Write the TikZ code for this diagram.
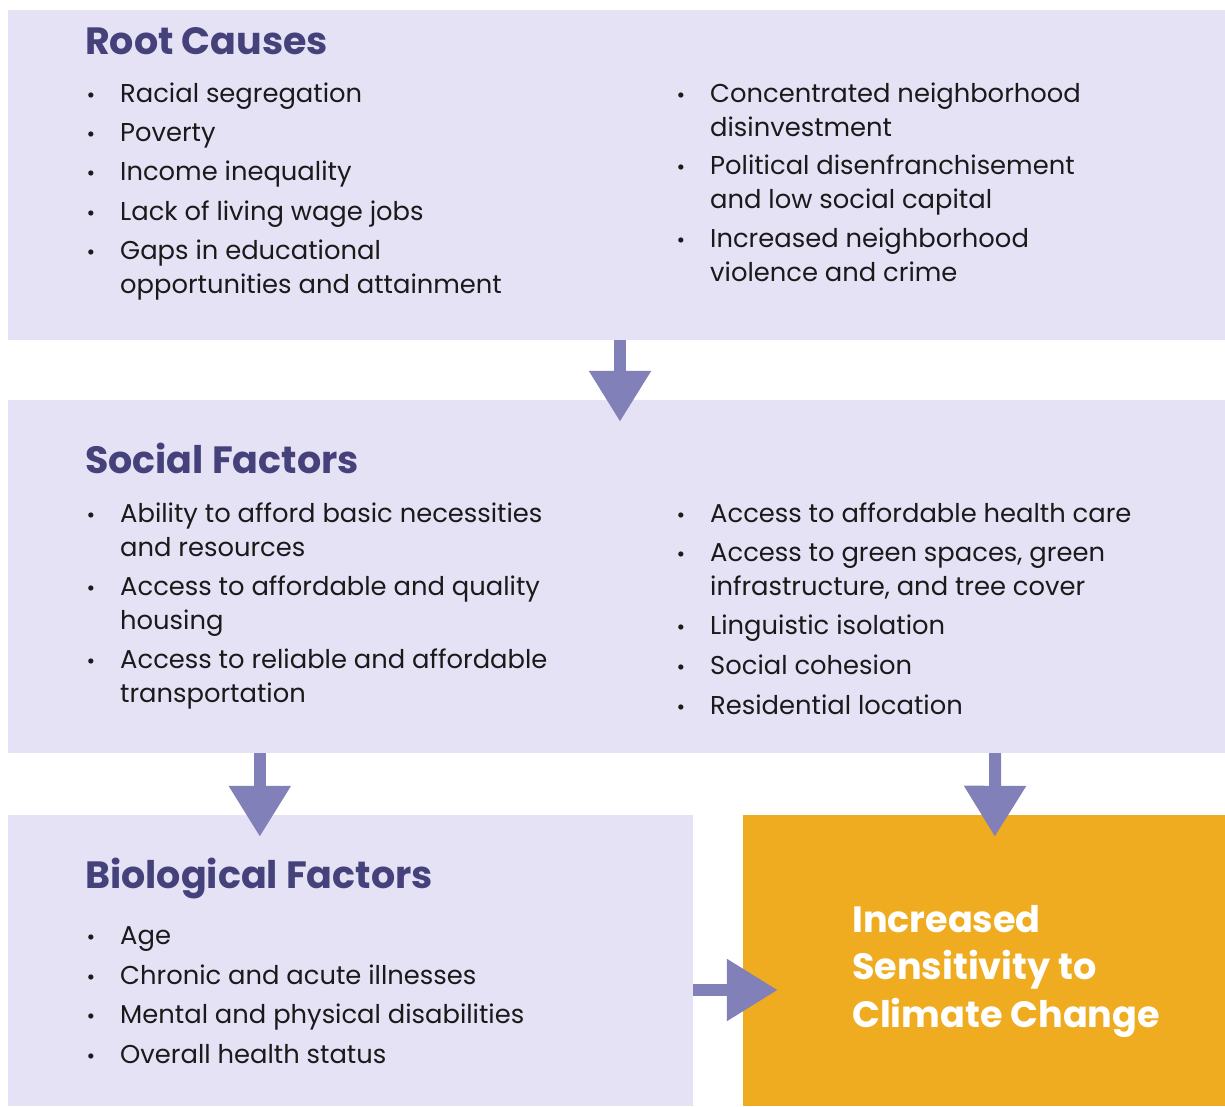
\documentclass[tikz,border=0pt]{standalone}
\usepackage{fontspec}
\setmainfont{Poppins}
\usepackage{tikz}
\usetikzlibrary{arrows.meta,positioning,calc}
\definecolor{PanelLilac}{HTML}{E5E2F6}
\definecolor{FlowPurple}{HTML}{8280B8}
\definecolor{HeadPurple}{HTML}{45417A}
\definecolor{HotAmber}{HTML}{F0AC20}
\definecolor{InkDark}{HTML}{1A1A1A}
\newcommand{\bul}{\llap{{\fontsize{21}{21}\selectfont\textbullet}\hskip 25pt}}

\begin{document}
\begin{tikzpicture}[
	x=1pt, y=1pt,
	panel/.style={fill=PanelLilac, inner sep=0pt},
	hotpanel/.style={fill=HotAmber, inner sep=0pt},
	heading/.style={anchor=base west, inner sep=0pt, text=HeadPurple, font=\fontsize{38}{46}\selectfont\bfseries},
	entry/.style={anchor=base west, inner sep=0pt, align=left, text=InkDark, font=\fontsize{25.8}{34}\selectfont},
	hottext/.style={anchor=base west, inner sep=0pt, align=left, text=white, font=\fontsize{36.6}{47.5}\selectfont\bfseries},
	flow/.style={-{Triangle[width=59pt,length=51pt]}, line width=12pt, draw=FlowPurple}
]
\useasboundingbox (0,0) rectangle (1225,1106);

% panels
\node[panel, minimum width=1217pt, minimum height=330pt] (root) at (616.5,931) {};
\node[panel, minimum width=1217pt, minimum height=353pt] (social) at (616.5,529.5) {};
\node[panel, minimum width=685pt, minimum height=291pt] (bio) at (350.5,145.5) {};
\node[hotpanel, minimum width=482pt, minimum height=291pt] (hot) at (984,145.5) {};

% root causes (multi-line entries sit on their last baseline)
\node[heading] (rootT) at (85,1051) {Root Causes};
\node[entry] (r1) at (120,1003) {\bul Racial segregation};
\node[entry] (r2) at (120,964) {\bul Poverty};
\node[entry] (r3) at (120,925) {\bul Income inequality};
\node[entry] (r4) at (120,885) {\bul Lack of living wage jobs};
\node[entry] (r5) at (120,812) {\bul Gaps in educational\\opportunities and attainment};
\node[entry] (r6) at (710,969) {\bul Concentrated neighborhood\\disinvestment};
\node[entry] (r7) at (710,897) {\bul Political disenfranchisement\\and low social capital};
\node[entry] (r8) at (710,824) {\bul Increased neighborhood\\violence and crime};

% social factors
\node[heading] (socialT) at (85,632) {Social Factors};
\node[entry] (s1) at (120,549) {\bul Ability to afford basic necessities\\and resources};
\node[entry] (s2) at (120,476) {\bul Access to affordable and quality\\housing};
\node[entry] (s3) at (120,403) {\bul Access to reliable and affordable\\transportation};
\node[entry] (s4) at (710,583) {\bul Access to affordable health care};
\node[entry] (s5) at (710,510) {\bul Access to green spaces, green\\infrastructure, and tree cover};
\node[entry] (s6) at (710,471) {\bul Linguistic isolation};
\node[entry] (s7) at (710,431) {\bul Social cohesion};
\node[entry] (s8) at (710,391) {\bul Residential location};

% biological factors
\node[heading] (bioT) at (85,218) {Biological Factors};
\node[entry] (b1) at (120,162) {\bul Age};
\node[entry] (b2) at (120,122) {\bul Chronic and acute illnesses};
\node[entry] (b3) at (120,83) {\bul Mental and physical disabilities};
\node[entry] (b4) at (120,43) {\bul Overall health status};

% outcome
\node[hottext] (hotT) at (852,79) {Increased\\Sensitivity to\\Climate Change};

% connectors
\draw[flow] ([xshift=3.5pt]root.south) -- ([xshift=3.5pt,yshift=-22pt]social.north);
\draw[flow] ([xshift=252pt]social.south west) -- ([xshift=252pt,yshift=-22pt]bio.north west);
\draw[flow] ([xshift=-230pt]social.south east) -- ([xshift=252pt,yshift=-22pt]hot.north west);
\draw[flow] ([yshift=-29.5pt]bio.east) -- ([xshift=35pt,yshift=-29.5pt]hot.west);
\end{tikzpicture}
\end{document}
